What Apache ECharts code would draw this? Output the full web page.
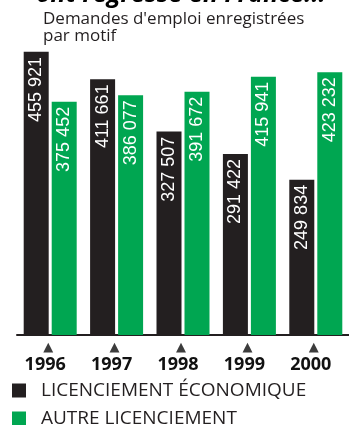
<!DOCTYPE html>
<html>
<head>
<meta charset="utf-8">
<script src="https://cdn.jsdelivr.net/npm/echarts@6/dist/echarts.min.js"></script>
<style>
  html, body { margin: 0; padding: 0; background: #fff; }
  #chart { width: 349px; height: 425px; }
</style>
</head>
<body>
<div id="chart"></div>
<script>
// Demandes d'emploi enregistrées par motif, 1996-2000
const years = ['1996', '1997', '1998', '1999', '2000'];
const licEco = [455921, 411661, 327507, 291422, 249834];
const autreLic = [375452, 386077, 391672, 415941, 423232];
const seriesNames = ['LICENCIEMENT ÉCONOMIQUE', 'AUTRE LICENCIEMENT'];

const BLACK = '#231f20';
const GREEN = '#00a651';

// Thousands separated by a space, French style
const fmt = v => String(v).replace(/\B(?=(\d{3})+(?!\d))/g, ' ');

const barLabel = {
  show: true,
  position: 'insideTop',
  distance: 5,
  rotate: 90,
  align: 'right',
  verticalAlign: 'middle',
  color: '#fff',
  fontFamily: 'Liberation Sans',
  fontSize: 18,
  formatter: p => fmt(p.value)
};

// One stacked legend row per series
const legendRow = (name, top) => ({
  orient: 'vertical',
  left: 12,
  top: top,
  padding: 0,
  itemWidth: 14,
  itemHeight: 14,
  icon: 'rect',
  data: [name],
  textStyle: { fontFamily: 'Open Sans', fontSize: 19, color: '#231f20', padding: [0, 0, 0, 10] }
});

const chart = echarts.init(document.getElementById('chart'), null, { renderer: 'canvas' });
chart.setOption({
  animation: false,
  backgroundColor: '#fff',
  title: [
    {
      text: 'ont régressé en France...',
      left: 36,
      top: -18,
      padding: 0,
      textStyle: { fontFamily: 'Open Sans', fontSize: 25, fontWeight: 'bold', fontStyle: 'italic', color: '#000' }
    },
    {
      text: "Demandes d'emploi enregistrées\npar motif",
      left: 43,
      top: 11,
      padding: 0,
      textStyle: { fontFamily: 'Open Sans', fontSize: 17, fontWeight: 'normal', lineHeight: 17, color: '#231f20' }
    }
  ],
  legend: [legendRow(seriesNames[0], 381), legendRow(seriesNames[1], 409)],
  grid: { left: 17, top: 24.5, width: 341.5, height: 310.5 },
  xAxis: {
    type: 'category',
    data: years,
    axisLine: { lineStyle: { color: BLACK, width: 2 } },
    axisTick: { show: false },
    axisLabel: {
      margin: 7,
      formatter: v => '{t|▲}\n{y|' + v + '}',
      rich: {
        t: { fontFamily: 'DejaVu Sans', fontSize: 13, lineHeight: 12, color: '#3c3c3c', padding: [0, 4, 0, 0] },
        y: { fontFamily: 'Open Sans', fontSize: 18, fontWeight: 'bold', lineHeight: 22, color: '#111', padding: [0, 10, 0, 0] }
      }
    }
  },
  yAxis: {
    type: 'value',
    min: 0,
    max: 500000,
    show: false,
    splitLine: { show: false }
  },
  series: [
    {
      name: seriesNames[0],
      type: 'bar',
      data: licEco,
      barWidth: 25,
      barGap: '12%',
      itemStyle: { color: BLACK },
      label: barLabel
    },
    {
      name: seriesNames[1],
      type: 'bar',
      data: autreLic,
      barWidth: 25,
      itemStyle: { color: GREEN },
      label: barLabel
    }
  ]
});
</script>
</body>
</html>
